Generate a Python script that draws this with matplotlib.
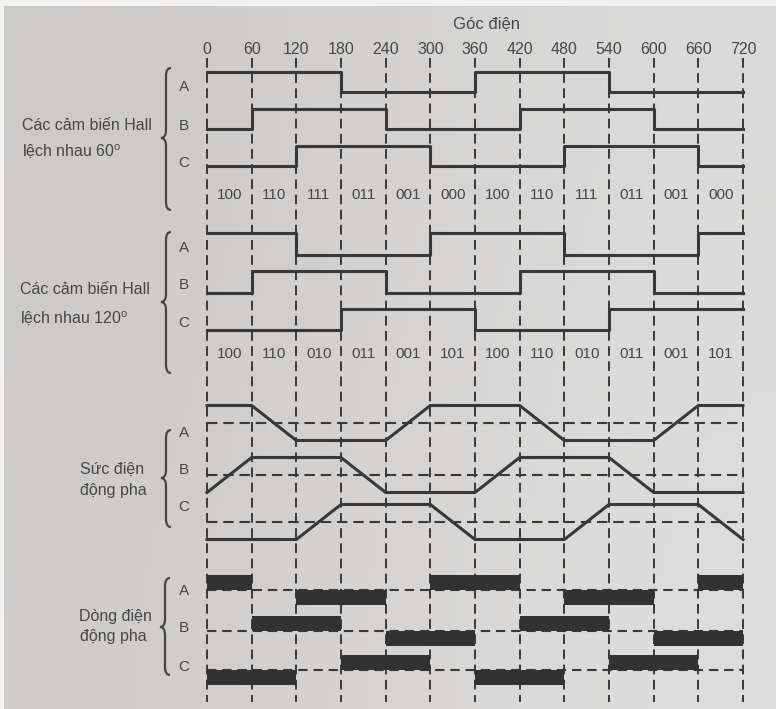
import numpy as np
import matplotlib.pyplot as plt
from matplotlib.path import Path
import matplotlib.patches as patches

plt.rcParams['font.family'] = ['Liberation Sans', 'DejaVu Sans']
plt.rcParams['mathtext.fontset'] = 'custom'
plt.rcParams['mathtext.rm'] = 'Liberation Sans'

# ---- data: electrical angle grid (deg) and per-60-degree states ----
angles = list(range(0, 721, 60))
angle_labels = [str(a) for a in angles]

# Hall sensors spaced 60 degrees
hall60_a = [1, 1, 1, 0, 0, 0, 1, 1, 1, 0, 0, 0]
hall60_b = [0, 1, 1, 1, 0, 0, 0, 1, 1, 1, 0, 0]
hall60_c = [0, 0, 1, 1, 1, 0, 0, 0, 1, 1, 1, 0]
codes60 = ['100', '110', '111', '011', '001', '000',
           '100', '110', '111', '011', '001', '000']

# Hall sensors spaced 120 degrees
hall120_a = [1, 1, 0, 0, 0, 1, 1, 1, 0, 0, 0, 1]
hall120_b = [0, 1, 1, 1, 0, 0, 0, 1, 1, 1, 0, 0]
hall120_c = [0, 0, 0, 1, 1, 1, 0, 0, 0, 1, 1, 1]
codes120 = ['100', '110', '010', '011', '001', '101',
            '100', '110', '010', '011', '001', '101']

# trapezoidal back-EMF, value at each grid angle
emf_a = [1, 1, -1, -1, -1, 1, 1, 1, -1, -1, -1, 1, 1]
emf_b = [-1, 1, 1, 1, -1, -1, -1, 1, 1, 1, -1, -1, -1]
emf_c = [-1, -1, -1, 1, 1, 1, -1, -1, -1, 1, 1, 1, -1]

# phase currents per 60-degree sector
cur_a = [1, 0, -1, -1, 0, 1, 1, 0, -1, -1, 0, 1]
cur_b = [0, 1, 1, 0, -1, -1, 0, 1, 1, 0, -1, -1]
cur_c = [-1, -1, 0, 1, 1, 0, -1, -1, 0, 1, 1, 0]

W, H = 776, 709
X0, X720 = 207, 743
k = (X720 - X0) / 720.0

LINE = '#383838'
TEXT = '#464646'

fig = plt.figure(figsize=(W / 100, H / 100), dpi=100)
fig.patch.set_facecolor('#f2f2f2')

# paper background (photo gradient)
bg = fig.add_axes([0, 0, 1, 1])
bg.set_xlim(0, W)
bg.set_ylim(H, 0)
bg.axis('off')
grad = np.array([[[0.80, 0.79, 0.78], [0.86, 0.86, 0.86]],
                 [[0.81, 0.80, 0.79], [0.87, 0.87, 0.87]]])
bg.imshow(grad, extent=(4, W, H, 6), aspect='auto', interpolation='bicubic')

# data axes: x in degrees, y in pixel rows
ax = fig.add_axes([0, 0, 1, 1], facecolor='none')
ax.set_xlim(-X0 / k, (W - X0) / k)
ax.set_ylim(H, 0)
ax.axis('off')

# overlay axes in pixel coordinates for labels/braces
tx = fig.add_axes([0, 0, 1, 1], facecolor='none')
tx.set_xlim(0, W)
tx.set_ylim(H, 0)
tx.axis('off')

# vertical dashed grid
for a, lab in zip(angles, angle_labels):
    ax.plot([a, a], [58, 702], color=LINE, lw=1.4, dashes=(5, 2.8), zorder=2)
    ax.text(a, 50, lab, ha='center', va='center', fontsize=11.5, color=TEXT)
ax.text(375, 24, 'Góc điện', ha='center', va='center', fontsize=12, color=TEXT)


def hall_trace(vals, base, swing):
    y = base - swing * np.array(vals + [vals[-1]])
    ax.step(angles, y, where='post', color=LINE, lw=2.2, zorder=3)


hall_trace(hall60_a, 92, 20)
hall_trace(hall60_b, 129, 20)
hall_trace(hall60_c, 166, 20)
for i, c in enumerate(codes60):
    ax.text(angles[i] + 30, 195, c, ha='center', va='center', fontsize=11, color=TEXT)

hall_trace(hall120_a, 255, 22)
hall_trace(hall120_b, 293, 22)
hall_trace(hall120_c, 330, 21)
for i, c in enumerate(codes120):
    ax.text(angles[i] + 30, 354, c, ha='center', va='center', fontsize=11, color=TEXT)

# back-EMF
for vals, ref in [(emf_a, 423), (emf_b, 475), (emf_c, 522)]:
    ax.plot([0, 720], [ref, ref], color=LINE, lw=1.5, dashes=(5, 2.8), zorder=2)
    ax.plot(angles, ref - 17.5 * np.array(vals), color=LINE, lw=2.2, zorder=3)

# phase currents
for vals, ref in [(cur_a, 590), (cur_b, 631), (cur_c, 670)]:
    ax.plot([0, 720], [ref, ref], color=LINE, lw=1.5, dashes=(4.5, 2.8), zorder=2)
    for i, v in enumerate(vals):
        if v != 0:
            ax.bar(angles[i], -15 * v, width=60, bottom=ref, align='edge',
                   color='#323232', lw=0, zorder=4)


def brace(x, y0, ymid, y1, w=10, r=8):
    xm = x + w / 2.0
    verts = [(x + w, y0), (xm, y0), (xm, y0 + r),
             (xm, ymid - r),
             (xm, ymid), (x, ymid),
             (xm, ymid), (xm, ymid + r),
             (xm, y1 - r),
             (xm, y1), (x + w, y1)]
    codes = [Path.MOVETO, Path.CURVE3, Path.CURVE3,
             Path.LINETO,
             Path.CURVE3, Path.CURVE3,
             Path.CURVE3, Path.CURVE3,
             Path.LINETO,
             Path.CURVE3, Path.CURVE3]
    tx.add_patch(patches.PathPatch(Path(verts, codes), fill=False,
                                   edgecolor=TEXT, lw=1.6, zorder=3))


brace(161, 68, 138, 210)
brace(161, 232, 302, 373)
brace(161, 430, 478, 527)
brace(160, 578, 627, 675)

for lbl, ys in [('A', (87, 248, 433, 591)), ('B', (126, 285, 470, 628)),
                ('C', (163, 323, 507, 667))]:
    for y in ys:
        tx.text(184, y, lbl, ha='center', va='center', fontsize=11, color=TEXT)

tx.text(22, 126, 'Các cảm biến Hall', ha='left', va='center', fontsize=11.5, color=TEXT)
tx.text(22, 151, 'lệch nhau 60$^{\\rm o}$', ha='left', va='center', fontsize=11.5, color=TEXT)
tx.text(20, 290, 'Các cảm biến Hall', ha='left', va='center', fontsize=11.5, color=TEXT)
tx.text(20, 318, 'lệch nhau 120$^{\\rm o}$', ha='left', va='center', fontsize=11.5, color=TEXT)
tx.text(80, 469, 'Sức điện', ha='left', va='center', fontsize=11.5, color=TEXT)
tx.text(80, 490, 'động pha', ha='left', va='center', fontsize=11.5, color=TEXT)
tx.text(79, 617, 'Dòng điện', ha='left', va='center', fontsize=11.5, color=TEXT)
tx.text(80, 637, 'động pha', ha='left', va='center', fontsize=11.5, color=TEXT)

fig.savefig('out.png', dpi=100, facecolor=fig.get_facecolor())
